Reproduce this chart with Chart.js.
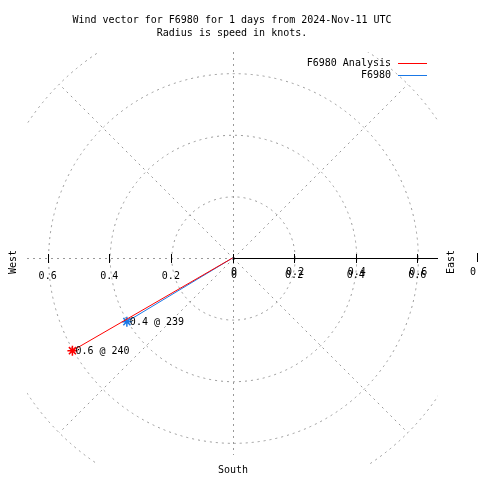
<!DOCTYPE html>
<html>
<head>
<meta charset="utf-8">
<script src="https://cdn.jsdelivr.net/npm/chart.js@4"></script>
<style>
  body { margin: 0; background: #fff; }
  canvas { display: block; }
</style>
</head>
<body>
<canvas id="windChart" width="480" height="480"></canvas>
<script>
const seriesNames = ["F6980 Analysis", "F6980"];
const speeds = [0.6, 0.4];
const directions = [240, 239];
const seriesColors = ["#ff0000", "#1a78e6"];
const ringRadii = [0.2, 0.4, 0.6, 0.8];
const tickValues = [0.2, 0.4, 0.6];
const titleLines = ["Wind vector for F6980 for 1 days from 2024-Nov-11 UTC", "Radius is speed in knots."];

const FONT = "10px 'DejaVu Sans Mono', monospace";
const GRID = "#999999";

function toXY(speed, dir) {
  const a = dir * Math.PI / 180;
  return { x: speed * Math.sin(a), y: speed * Math.cos(a) };
}

const datasets = speeds.map((s, i) => ({
  label: seriesNames[i],
  data: [{ x: 0, y: 0 }, toXY(s, directions[i])],
  showLine: true,
  borderColor: seriesColors[i],
  borderWidth: 1,
  pointStyle: "star",
  pointRadius: (c) => (c.dataIndex ? 5 : 0),
  pointBorderColor: seriesColors[i],
  pointBorderWidth: 1.5,
}));

const polarGrid = {
  id: "polarGrid",
  beforeDatasetsDraw(chart) {
    const { ctx, chartArea: a, scales: { x, y } } = chart;
    const cx = Math.round(x.getPixelForValue(0));
    const cy = Math.round(y.getPixelForValue(0));
    const unit = x.getPixelForValue(1) - x.getPixelForValue(0);
    ctx.save();
    ctx.beginPath();
    ctx.rect(a.left, a.top, a.right - a.left, a.bottom - a.top);
    ctx.clip();
    ctx.strokeStyle = GRID;
    ctx.lineWidth = 1;
    ctx.setLineDash([2, 4]);
    ringRadii.forEach((r) => {
      ctx.beginPath();
      ctx.arc(cx + 0.5, cy + 0.5, r * unit, 0, Math.PI * 2);
      ctx.stroke();
    });
    const rmax = ringRadii[ringRadii.length - 1] * unit;
    [45, 135, 225, 315].forEach((d) => {
      const t = d * Math.PI / 180;
      ctx.beginPath();
      ctx.moveTo(cx + 0.5, cy + 0.5);
      ctx.lineTo(cx + 0.5 + rmax * Math.sin(t), cy + 0.5 - rmax * Math.cos(t));
      ctx.stroke();
    });
    ctx.beginPath();
    ctx.moveTo(cx + 0.5, a.top);
    ctx.lineTo(cx + 0.5, 455);
    ctx.moveTo(a.left, cy + 0.5);
    ctx.lineTo(cx, cy + 0.5);
    ctx.stroke();
    ctx.setLineDash([]);
    ctx.strokeStyle = "#000";
    ctx.beginPath();
    ctx.moveTo(cx, cy + 0.5);
    ctx.lineTo(a.right, cy + 0.5);
    [0].concat(tickValues, tickValues.map((v) => -v)).forEach((v) => {
      const px = Math.round(x.getPixelForValue(v)) + 0.5;
      ctx.moveTo(px, cy - 4);
      ctx.lineTo(px, cy + 5);
    });
    ctx.stroke();
    ctx.restore();

    ctx.save();
    ctx.font = FONT;
    ctx.fillStyle = "#000";
    ctx.textAlign = "center";
    ctx.textBaseline = "middle";
    tickValues.forEach((v) => {
      ctx.fillText(String(v), x.getPixelForValue(-v), cy + 18);
      const px = x.getPixelForValue(v);
      ctx.fillText(String(v), px, cy + 17);
      ctx.fillText(String(v), px + 1, cy + 14);
    });
    ctx.fillText("0", cx + 1, cy + 17);
    ctx.fillText("0", cx + 1, cy + 14);
    ctx.fillText("South", cx, 470);
    ctx.fillText("0", 473, 272);
    ctx.fillRect(477, 253, 1, 9);
    [["West", 13], ["East", 451]].forEach(([t, px]) => {
      ctx.save();
      ctx.translate(px, cy + 4);
      ctx.rotate(-Math.PI / 2);
      ctx.fillText(t, 0, 0);
      ctx.restore();
    });
    titleLines.forEach((t, i) => ctx.fillText(t, 232, 20 + i * 13));
    ctx.restore();
  },
  afterDatasetsDraw(chart) {
    const { ctx, scales: { x, y } } = chart;
    ctx.save();
    ctx.font = FONT;
    ctx.textBaseline = "middle";
    speeds.forEach((s, i) => {
      const p = toXY(s, directions[i]);
      ctx.fillStyle = "#000";
      ctx.fillText(s + " @ " + directions[i], x.getPixelForValue(p.x) + 3, y.getPixelForValue(p.y) + 1);
    });
    seriesNames.forEach((n, i) => {
      const ly = 63 + i * 12;
      ctx.textAlign = "right";
      ctx.fillStyle = "#000";
      ctx.fillText(n, 391, ly);
      ctx.fillStyle = seriesColors[i];
      ctx.fillRect(398, ly, 29, 1);
    });
    ctx.restore();
  },
};

new Chart(document.getElementById("windChart").getContext("2d"), {
  type: "scatter",
  data: { datasets },
  options: {
    responsive: false,
    animation: false,
    layout: { padding: { left: 27, right: 42, top: 52, bottom: 16 } },
    plugins: { legend: { display: false }, tooltip: { enabled: false } },
    scales: {
      x: { type: "linear", min: -0.667, max: 0.667, display: false },
      y: { type: "linear", min: -0.667, max: 0.667, display: false },
    },
  },
  plugins: [polarGrid],
});
</script>
</body>
</html>
